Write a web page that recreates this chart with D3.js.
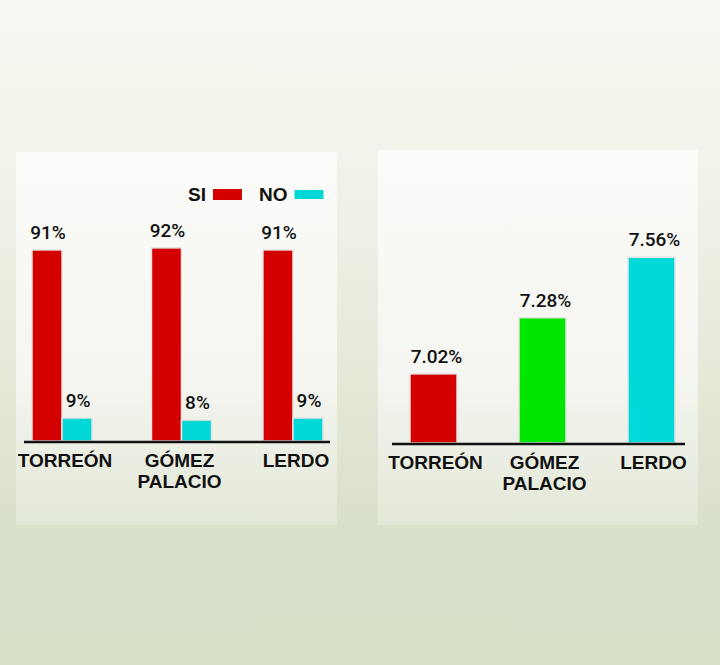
<!DOCTYPE html>
<html>
<head>
<meta charset="utf-8">
<style>
body { margin: 0; }
svg { display: block; font-family: "Liberation Sans", Arial, sans-serif; }
.val { font-family: Roboto, "Liberation Sans", sans-serif; font-size: 19px; font-weight: 500; fill: #111; }
.cat { font-size: 19px; font-weight: bold; fill: #111; }
</style>
</head>
<body>
<script src="https://cdn.jsdelivr.net/npm/d3@7"></script>
<script>
const width = 720, height = 665;

// left chart: SI / NO por municipio
const cities = ['TORREÓN', 'GÓMEZ PALACIO', 'LERDO'];
const keys = ['SI', 'NO'];
const siValues = [91, 92, 91];
const noValues = [9, 8, 9];
const keyColors = ['#d40000', '#00d8d8'];

// right chart: porcentaje por municipio
const rateValues = [7.02, 7.28, 7.56];
const rateColors = ['#d40000', '#00e600', '#00d8da'];

const svg = d3.select('body').append('svg')
    .attr('width', width)
    .attr('height', height);

const defs = svg.append('defs');
const bg = defs.append('linearGradient').attr('id', 'bg')
    .attr('x1', 0).attr('y1', 0).attr('x2', 0).attr('y2', 1);
bg.append('stop').attr('offset', 0).attr('stop-color', '#f6f8f1');
bg.append('stop').attr('offset', 0.35).attr('stop-color', '#eef1e6');
bg.append('stop').attr('offset', 0.8).attr('stop-color', '#d9e0c9');
bg.append('stop').attr('offset', 1).attr('stop-color', '#d9e0c8');

const pg = defs.append('linearGradient').attr('id', 'panel')
    .attr('x1', 0).attr('y1', 0).attr('x2', 0).attr('y2', 1);
pg.append('stop').attr('offset', 0).attr('stop-color', '#fbfbf9');
pg.append('stop').attr('offset', 0.6).attr('stop-color', '#f5f6f1');
pg.append('stop').attr('offset', 1).attr('stop-color', '#e2e8d7');

svg.append('rect').attr('width', width).attr('height', height).attr('fill', 'url(#bg)');

svg.append('rect').attr('x', 16).attr('y', 152).attr('width', 321).attr('height', 373).attr('fill', 'url(#panel)');
svg.append('rect').attr('x', 378).attr('y', 150).attr('width', 320).attr('height', 375).attr('fill', 'url(#panel)');

function catLabel(g, name, x, y) {
    const words = name.split(' ');
    const t = g.append('text').attr('class', 'cat').attr('text-anchor', 'middle');
    words.forEach((w, i) => {
        t.append('tspan').attr('x', x).attr('y', y + i * 21).text(w);
    });
}

// ---------- left chart ----------
const left = svg.append('g');
const base1 = 441;
const x0 = d3.scaleBand().domain(cities).range([32, 323]).paddingInner(0.48).paddingOuter(0);
const x1 = d3.scaleBand().domain(keys).range([0, x0.bandwidth()]);
// the source bars don't start from a true zero
const y1 = d3.scaleLinear().domain([-2.2, 100]).range([base1, base1 - 209.5]);

const rows = cities.map((c, i) => ({ city: c, vals: [siValues[i], noValues[i]] }));

const grp = left.selectAll('.grp').data(rows).enter().append('g')
    .attr('transform', (d, i) => 'translate(' + (x0(d.city) + (i === 1 ? 4 : 0)) + ',0)');

grp.selectAll('rect').data(d => d.vals.map((v, k) => ({ key: keys[k], v: v, k: k })))
    .enter().append('rect')
    .attr('x', d => x1(d.key))
    .attr('y', d => y1(d.v))
    .attr('width', x1.bandwidth())
    .attr('height', d => base1 - y1(d.v))
    .attr('fill', d => keyColors[d.k])
    .attr('stroke', '#e4e4e0')
    .attr('stroke-width', 1.5);

grp.selectAll('text.val').data(d => d.vals.map((v, k) => ({ key: keys[k], v: v })))
    .enter().append('text')
    .attr('class', 'val')
    .attr('text-anchor', 'middle')
    .attr('x', d => x1(d.key) + x1.bandwidth() / 2 + 1)
    .attr('y', d => y1(d.v) - 11)
    .text(d => d.v + '%');

left.append('line')
    .attr('x1', 24).attr('x2', 330)
    .attr('y1', base1 + 1).attr('y2', base1 + 1)
    .attr('stroke', '#111').attr('stroke-width', 2.5);

cities.forEach((c, i) => catLabel(left, c, x0(c) + x0.bandwidth() / 2 + (i === 1 ? 2 : 3), 467));

// legend
const legend = left.append('g');
const legendX = [188, 259];
keys.forEach((k, i) => {
    const t = legend.append('text').attr('class', 'cat').attr('x', legendX[i]).attr('y', 201).text(k);
    const w = t.node().getComputedTextLength();
    legend.append('rect').attr('x', legendX[i] + w + 7).attr('y', 189 + i)
        .attr('width', 29).attr('height', 11 - 2 * i)
        .attr('fill', keyColors[i]);
});

// ---------- right chart ----------
const right = svg.append('g');
const base2 = 443;
const xr = d3.scalePoint().domain(cities).range([433.5, 651.5]);
const yr = d3.scaleLinear().domain([6.7, 7.7]).range([base2, base2 - 216]);
const barW = 47;

right.selectAll('rect.bar').data(rateValues).enter().append('rect')
    .attr('x', (d, i) => xr(cities[i]) - barW / 2)
    .attr('y', d => yr(d))
    .attr('width', barW)
    .attr('height', d => base2 - yr(d))
    .attr('fill', (d, i) => rateColors[i])
    .attr('stroke', '#e4e4e0')
    .attr('stroke-width', 1.5);

right.selectAll('text.val').data(rateValues).enter().append('text')
    .attr('class', 'val')
    .attr('text-anchor', 'middle')
    .attr('x', (d, i) => xr(cities[i]) + 3)
    .attr('y', d => yr(d) - 11)
    .text(d => d.toFixed(2) + '%');

right.append('line')
    .attr('x1', 392).attr('x2', 685)
    .attr('y1', base2 + 1).attr('y2', base2 + 1)
    .attr('stroke', '#111').attr('stroke-width', 2.5);

cities.forEach(c => catLabel(right, c, xr(c) + 2, 469));
</script>
</body>
</html>
